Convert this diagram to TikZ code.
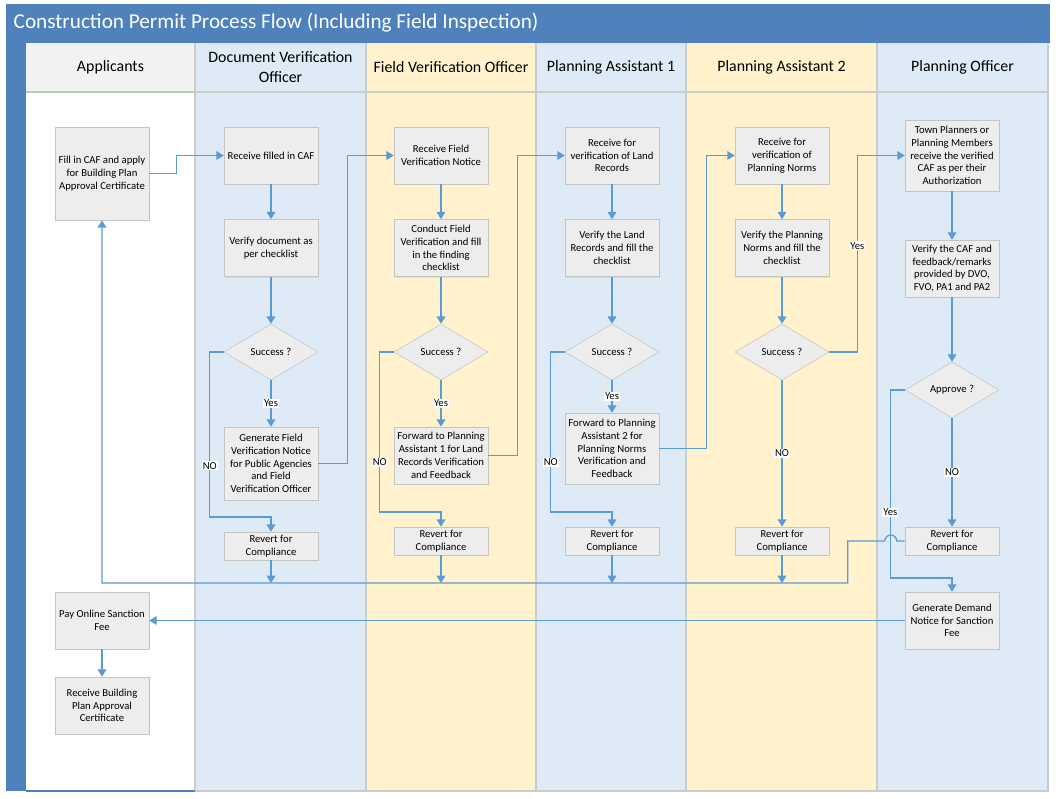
\documentclass[tikz,border=0pt]{standalone}
\usepackage{fontspec}
\setmainfont{Carlito}
\usetikzlibrary{arrows.meta,shapes.geometric,shadows}

\definecolor{barblue}{RGB}{79,129,189}
\definecolor{laneblue}{RGB}{222,234,246}
\definecolor{laneyellow}{RGB}{255,242,204}
\definecolor{headgrey}{RGB}{242,242,242}
\definecolor{boxgrey}{RGB}{237,237,237}
\definecolor{edgegrey}{RGB}{196,196,196}
\definecolor{flowblue}{RGB}{91,155,213}
\definecolor{sepgrey}{RGB}{204,204,204}

\begin{document}
\begin{tikzpicture}[x=0.75pt, y=-0.75pt,
    box/.style = {draw=edgegrey, fill=boxgrey, align=center, inner sep=1pt,
      minimum width=70.5pt, minimum height=42.75pt,
      font=\fontsize{8}{9.6}\selectfont,
      drop shadow={shadow xshift=1pt, shadow yshift=-1pt, opacity=0.15}},
    decide/.style = {diamond, draw=edgegrey, fill=boxgrey, inner sep=0pt,
      minimum width=70.5pt, minimum height=42pt, aspect=1.7,
      font=\fontsize{8}{9.6}\selectfont},
    flow/.style = {draw=flowblue, line width=0.9pt,
      -{Triangle[width=6.5pt, length=5.5pt]}},
    tag/.style = {fill=white, inner sep=0.8pt, font=\fontsize{8}{9.6}\selectfont},
    lanehead/.style = {align=center, font=\fontsize{11.9}{14.4}\selectfont}]

    \useasboundingbox (0, 0) rectangle (1056, 799);

    \fill[white] (26, 92) rectangle (195, 791);
    \fill[headgrey] (26, 42) rectangle (195, 92);
    \fill[laneblue] (195, 42) rectangle (366, 791);
    \fill[laneyellow] (366, 42) rectangle (536, 791);
    \fill[laneblue] (536, 42) rectangle (686, 791);
    \fill[laneyellow] (686, 42) rectangle (877, 791);
    \fill[laneblue] (877, 42) rectangle (1048, 791);

    \foreach \x in {195, 366, 536, 686, 877}
      \draw[sepgrey, line width=1pt] (\x, 42) -- (\x, 791);
    \draw[sepgrey, line width=0.8pt] (195, 92) -- (1048, 92);
    \draw[green!15!sepgrey, line width=1pt] (26, 92) -- (195, 92);
    \draw[sepgrey, line width=1pt] (195, 791) -- (1048, 791) -- (1048, 42);

    \fill[barblue] (6, 4) rectangle (1050, 43);
    \fill[barblue] (6, 43) rectangle (26, 791);
    \draw[barblue, line width=1.5pt] (26, 790.5) -- (195, 790.5);

    \node[anchor=west, text=white, font=\fontsize{15.9}{19}\selectfont] (title)
      at (9, 23) {Construction Permit Process Flow (Including Field Inspection)};

    \node[lanehead] (hdapp) at (110.5, 67) {Applicants};
    \node[lanehead] (hddvo) at (280.5, 67) {Document Verification\\Officer};
    \node[lanehead] (hdfvo) at (451, 67) {Field Verification Officer};
    \node[lanehead] (hdpa1) at (611, 67) {Planning Assistant 1};
    \node[lanehead] (hdpa2) at (781.5, 67) {Planning Assistant 2};
    \node[lanehead] (hdpo) at (962.5, 67) {Planning Officer};

    \node[box, minimum height=69.75pt] (fill) at (102, 173.5)
      {Fill in CAF and apply\\for Building Plan\\Approval Certificate};
    \node[box] (pay) at (102, 620.5) {Pay Online Sanction\\Fee};
    \node[box] (cert) at (102, 705.5) {Receive Building\\Plan Approval\\Certificate};

    \node[box] (dvorcv) at (271, 155.5) {Receive filled in CAF};
    \node[box] (dvochk) at (271, 248) {Verify document as\\per checklist};
    \node[decide] (dvook) at (271, 352) {Success ?};
    \node[box, minimum height=54.75pt] (dvogen) at (271, 463.5)
      {Generate Field\\Verification Notice\\for Public Agencies\\and Field\\Verification Officer};
    \node[box, minimum height=21pt] (dvorev) at (271, 546) {Revert for\\Compliance};

    \node[box] (fvorcv) at (441, 155.5) {Receive Field\\Verification Notice};
    \node[box] (fvochk) at (441, 248)
      {Conduct Field\\Verification and fill\\in the finding\\checklist};
    \node[decide] (fvook) at (441, 352) {Success ?};
    \node[box] (fvofwd) at (441, 455.5)
      {Forward to Planning\\Assistant 1 for Land\\Records Verification\\and Feedback};
    \node[box, minimum height=21pt] (fvorev) at (441, 541) {Revert for\\Compliance};

    \node[box] (pa1rcv) at (612, 155.5) {Receive for\\verification of Land\\Records};
    \node[box] (pa1chk) at (612, 248) {Verify the Land\\Records and fill the\\checklist};
    \node[decide] (pa1ok) at (612, 352) {Success ?};
    \node[box, minimum height=53.25pt] (pa1fwd) at (612, 448.5)
      {Forward to Planning\\Assistant 2 for\\Planning Norms\\Verification and\\Feedback};
    \node[box, minimum height=21pt] (pa1rev) at (612, 541) {Revert for\\Compliance};

    \node[box] (pa2rcv) at (782, 155.5) {Receive for\\verification of\\Planning Norms};
    \node[box] (pa2chk) at (782, 248) {Verify the Planning\\Norms and fill the\\checklist};
    \node[decide] (pa2ok) at (782, 352) {Success ?};
    \node[box, minimum height=21pt] (pa2rev) at (782, 541) {Revert for\\Compliance};

    \node[box, minimum height=53.25pt] (porcv) at (952, 155.5)
      {Town Planners or\\Planning Members\\receive the verified\\CAF as per their\\Authorization};
    \node[box] (pochk) at (952, 268.5)
      {Verify the CAF and\\feedback/remarks\\provided by DVO,\\FVO, PA1 and PA2};
    \node[decide] (pook) at (952, 390) {Approve ?};
    \node[box, minimum height=21pt] (porev) at (952, 541) {Revert for\\Compliance};
    \node[box] (podmd) at (952, 620.5) {Generate Demand\\Notice for Sanction\\Fee};

    \coordinate (back) at (847.7, 583);

    \draw[flow] (fill.east) -- ++(27, 0) |- (dvorcv.west);
    \draw[flow] (dvorcv) -- (dvochk);
    \draw[flow] (dvochk) -- (dvook);
    \draw[flow] (dvook) -- node[tag] {Yes} (dvogen);
    \draw[flow] (dvook.west) -- ++(-14, 0) -- node[tag, pos=0.69] {NO} ++(0, 165)
      -| (dvorev.north);
    \draw[flow] (dvogen.east) -- ++(29, 0) |- (fvorcv.west);

    \draw[flow] (fvorcv) -- (fvochk);
    \draw[flow] (fvochk) -- (fvook);
    \draw[flow] (fvook) -- node[tag] {Yes} (fvofwd);
    \draw[flow] (fvook.west) -- ++(-14, 0) -- node[tag, pos=0.69] {NO} ++(0, 160)
      -| (fvorev.north);
    \draw[flow] (fvofwd.east) -- ++(29, 0) |- (pa1rcv.west);

    \draw[flow] (pa1rcv) -- (pa1chk);
    \draw[flow] (pa1chk) -- (pa1ok);
    \draw[flow] (pa1ok) -- node[tag] {Yes} (pa1fwd);
    \draw[flow] (pa1ok.west) -- ++(-14, 0) -- node[tag, pos=0.69] {NO} ++(0, 160)
      -| (pa1rev.north);
    \draw[flow] (pa1fwd.east) -- ++(47, 0) |- (pa2rcv.west);

    \draw[flow] (pa2rcv) -- (pa2chk);
    \draw[flow] (pa2chk) -- (pa2ok);
    \draw[flow] (pa2ok) -- node[tag] {NO} (pa2rev);
    \draw[flow] (pa2ok.east) -- ++(28, 0) |- node[tag, pos=0.27] {Yes} (porcv.west);

    \draw[flow] (porcv) -- (pochk);
    \draw[flow] (pochk) -- (pook);
    \draw[flow] (pook) -- node[tag] {NO} (porev);
    \draw[flow] (pook.west) -- ++(-14.3, 0) -- node[tag, pos=0.65] {Yes} ++(0, 188)
      -| (podmd.north);

    \draw[flow] (porev.west) -- (896.7, 541)
      arc[start angle=0, end angle=-180, radius=6]
      -- (back |- porev.west) -- (back) -| (fill.south);

    \draw[flow] (dvorev.south) -- (dvorev.south |- back);
    \draw[flow] (fvorev.south) -- (fvorev.south |- back);
    \draw[flow] (pa1rev.south) -- (pa1rev.south |- back);
    \draw[flow] (pa2rev.south) -- (pa2rev.south |- back);

    \draw[flow] (podmd.west) -- (pay.east);
    \draw[flow] (pay) -- (cert);

  \end{tikzpicture}
\end{document}
